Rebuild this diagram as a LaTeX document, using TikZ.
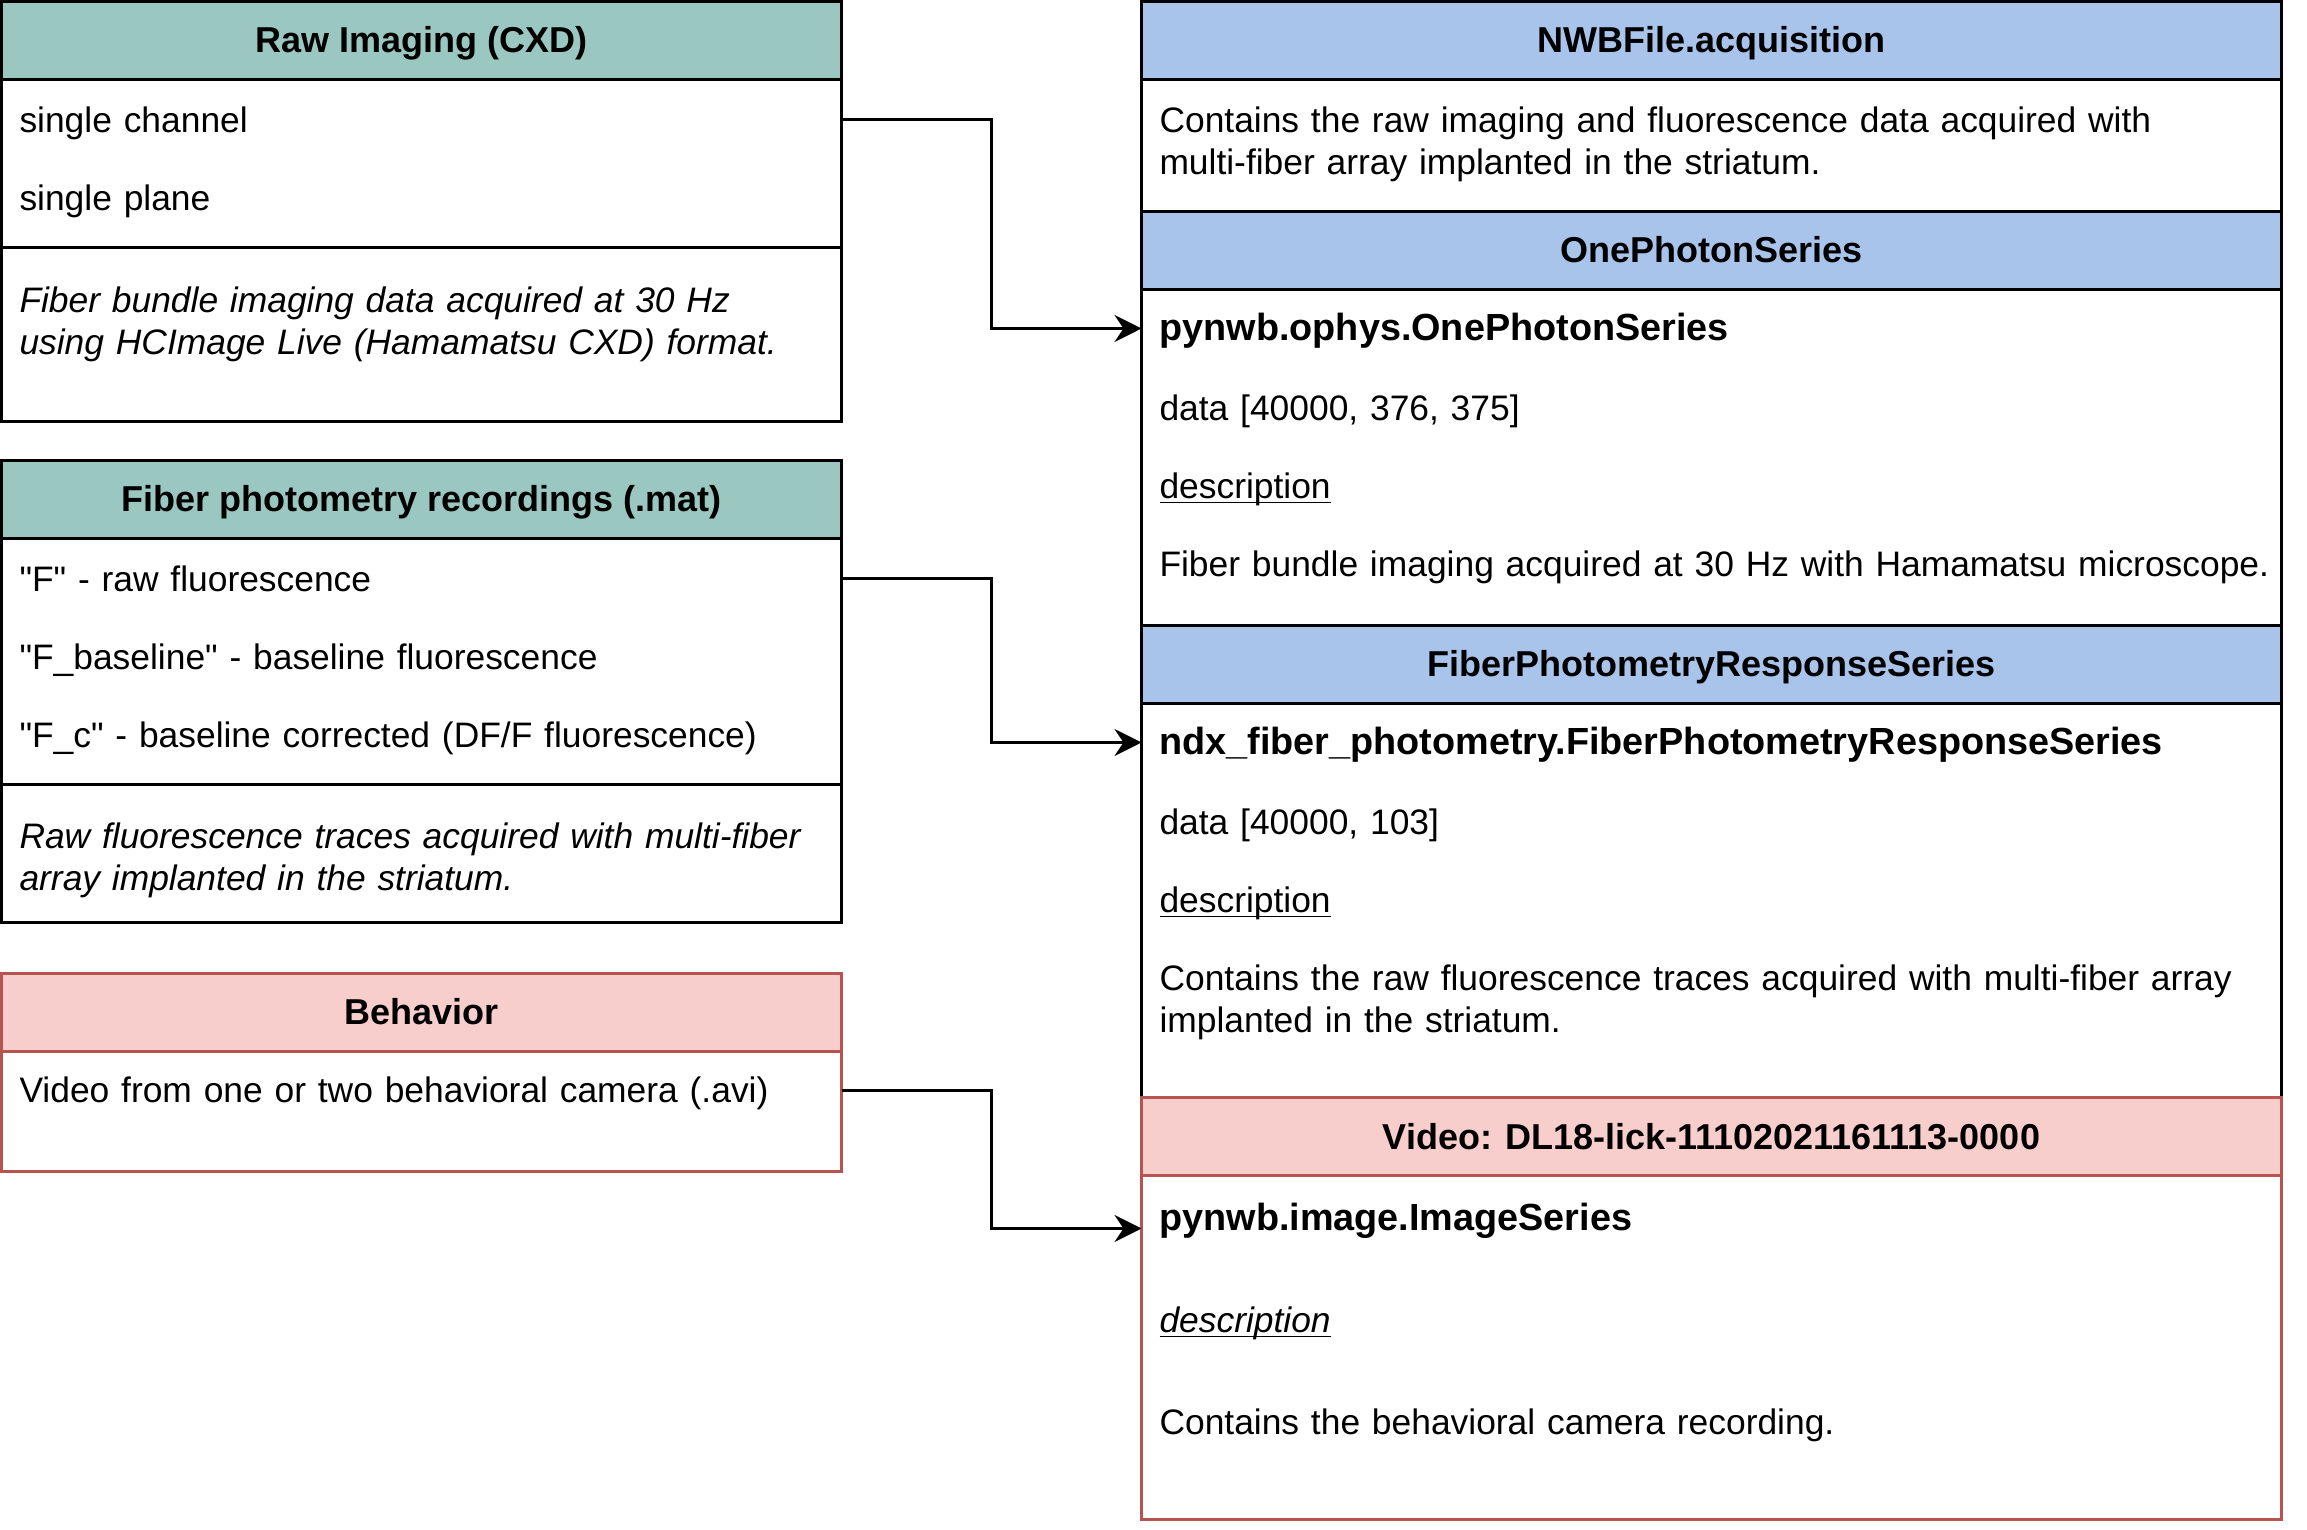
\documentclass[tikz,border=0pt]{standalone}
\usepackage{fontspec}
\setmainfont{Liberation Sans}[Ligatures=TeXOff]
\usetikzlibrary{arrows.meta,positioning}

\definecolor{rawgreen}{HTML}{9AC7BF}
\definecolor{nwbblue}{HTML}{A9C4EB}
\definecolor{behavred}{HTML}{F8CECC}
\definecolor{behavline}{HTML}{B85450}

\newcommand{\field}[1]{\underline{\smash{#1}}}

\tikzset{
  panel/.style={draw, fill=white, anchor=north west, outer sep=0pt, inner sep=0pt},
  header/.style={draw, anchor=north west, outer sep=0pt, inner sep=0pt,
    minimum height=26pt, text height=10.86pt, text depth=2.54pt, font=\fontsize{12}{14}\selectfont\bfseries},
  lrow/.style={anchor=west, inner xsep=6pt, inner ysep=0pt, outer sep=0pt,
    text width=268pt, align=left, text height=10.86pt, text depth=2.54pt},
  rrow/.style={lrow, text width=380pt},
  rbold/.style={rrow, font=\fontsize{12.6}{14}\selectfont\bfseries},
  lnote/.style={anchor=base west, inner xsep=6pt, inner ysep=0pt, outer sep=0pt,
    text width=268pt, align=left, font=\fontsize{11.8}{14}\selectfont\itshape},
  rnote/.style={lnote, text width=380pt, font=\fontsize{11.8}{14}\selectfont},
  link/.style={-{Stealth[length=9pt,width=9pt,inset=3pt]}, line width=1pt},
}

\begin{document}
\begin{tikzpicture}[x=1pt, y=-1pt, line width=1pt, font=\fontsize{11.8}{14}\selectfont]
  \useasboundingbox (0,0) rectangle (769,510);

  % Source data (left column)
  \node[panel, minimum width=280pt, minimum height=140pt] (raw) at (0.5,0.5) {};
  \node[header, fill=rawgreen, minimum width=280pt] (rawhead) at (0.5,0.5) {Raw Imaging (CXD)};
  \node[lrow] (rawch) at (0.5,40) {single channel};
  \node[lrow] (rawpl) at (0.5,66) {single plane};
  \draw (0.5,82.5) -- (280.5,82.5);
  \node[lnote] (rawnote) at (0.5,104.2) {Fiber bundle imaging data acquired at 30 Hz\\using HCImage Live (Hamamatsu CXD) format.};

  \node[panel, minimum width=280pt, minimum height=154pt] (fib) at (0.5,153.5) {};
  \node[header, fill=rawgreen, minimum width=280pt] (fibhead) at (0.5,153.5) {Fiber photometry recordings (.mat)};
  \foreach \n/\y/\t in {fibf/193/{"F" - raw fluorescence},
                        fibbase/219/{"F\_baseline" - baseline fluorescence},
                        fibc/245/{"F\_c" - baseline corrected (DF/F fluorescence)}}
    \node[lrow] (\n) at (0.5,\y) {\t};
  \draw (0.5,261.5) -- (280.5,261.5);
  \node[lnote] (fibnote) at (0.5,282.7) {Raw fluorescence traces acquired with multi-fiber\\array implanted in the striatum.};

  \node[panel, draw=behavline, minimum width=280pt, minimum height=66pt] (beh) at (0.5,324.5) {};
  \node[header, draw=behavline, fill=behavred, minimum width=280pt] (behhead) at (0.5,324.5) {Behavior};
  \node[lrow] (behvid) at (0.5,363.5) {Video from one or two behavioral camera (.avi)};

  % NWB file (right column)
  \node[panel, minimum width=380pt, minimum height=70pt] (nwb) at (380.5,0.5) {};
  \node[header, fill=nwbblue, minimum width=380pt] (nwbhead) at (380.5,0.5) {NWBFile.acquisition};
  \node[rnote] (nwbnote) at (380.5,44.2) {Contains the raw imaging and fluorescence data acquired with\\multi-fiber array implanted in the striatum.};

  \node[panel, minimum width=380pt, minimum height=138pt] (ops) at (380.5,70.5) {};
  \node[header, fill=nwbblue, minimum width=380pt] (opshead) at (380.5,70.5) {OnePhotonSeries};
  \node[rbold] (opsbold) at (380.5,109.5) {pynwb.ophys.OnePhotonSeries};
  \node[rrow] (opsdata) at (380.5,136) {data [40000, 376, 375]};
  \node[rrow] (opsdesc) at (380.5,162) {\field{description}};
  \node[rrow] (opstext) at (380.5,188) {Fiber bundle imaging acquired at 30 Hz with Hamamatsu microscope.};

  \node[panel, minimum width=380pt, minimum height=157.5pt] (fprs) at (380.5,208.5) {};
  \node[header, fill=nwbblue, minimum width=380pt] (fprshead) at (380.5,208.5) {FiberPhotometryResponseSeries};
  \node[rbold] (fprsbold) at (380.5,247.5) {ndx\_fiber\_photometry.FiberPhotometryResponseSeries};
  \node[rrow] (fprsdata) at (380.5,274) {data [40000, 103]};
  \node[rrow] (fprsdesc) at (380.5,300) {\field{description}};
  \node[rnote] (fprstext) at (380.5,330.2) {Contains the raw fluorescence traces acquired with multi-fiber array\\implanted in the striatum.};

  \node[panel, draw=behavline, minimum width=380pt, minimum height=140.5pt] (vid) at (380.5,366) {};
  \node[header, draw=behavline, fill=behavred, minimum width=380pt] (vidhead) at (380.5,366) {Video: DL18-lick-11102021161113-0000};
  \node[rbold] (vidbold) at (380.5,406) {pynwb.image.ImageSeries};
  \node[rrow] (viddesc) at (380.5,440) {\field{\textit{description}}};
  \node[rrow] (vidtext) at (380.5,474) {Contains the behavioral camera recording.};

  % Conversion links
  \draw[link] (rawch.east) -| ([xshift=-50pt]opsbold.west) -- (opsbold.west);
  \draw[link] (fibf.east) -| ([xshift=-50pt]fprsbold.west) -- (fprsbold.west);
  \draw[link] (behvid.east) -| ([xshift=-50pt,yshift=-3.5pt]vidbold.west) -- ([yshift=-3.5pt]vidbold.west);
\end{tikzpicture}
\end{document}
